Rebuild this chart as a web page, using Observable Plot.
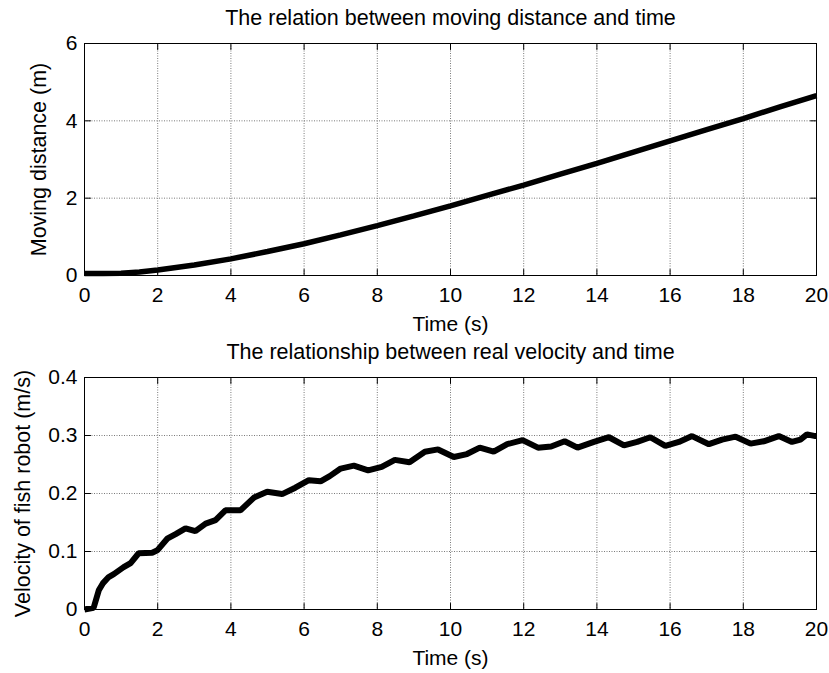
<!DOCTYPE html>
<html><head><meta charset="utf-8">
<script src="https://cdn.jsdelivr.net/npm/d3@7"></script>
<script src="https://cdn.jsdelivr.net/npm/@observablehq/plot@0.6"></script>
<style>
html,body{margin:0;padding:0;background:#fff;}
#chart{width:829px;height:673px;}
#chart svg{display:block;}
</style></head><body><div id="chart"></div>
<script>
// ---- data ----
const xTicks = [0, 2, 4, 6, 8, 10, 12, 14, 16, 18, 20];
const distTicks = [0, 2, 4, 6];
const velTicks = [0, 0.1, 0.2, 0.3, 0.4];

const distTime = [0, 0.5, 1, 1.5, 2, 3, 4, 5, 6, 7, 8, 9, 10, 11, 12, 13, 14, 15, 16, 17, 18, 19, 20];
const distValue = [0.05, 0.05, 0.06, 0.09, 0.14, 0.27, 0.43, 0.62, 0.82, 1.05, 1.29, 1.54, 1.80, 2.07, 2.34, 2.62, 2.90, 3.19, 3.48, 3.77, 4.06, 4.36, 4.65];

const velTime = [0, 0.25, 0.39, 0.5, 0.66, 0.8, 1.07, 1.26, 1.48, 1.85, 1.99, 2.26, 2.49, 2.76, 3.03, 3.31, 3.58, 3.85, 4.26, 4.63, 4.99, 5.4, 5.76, 6.13, 6.45, 6.7, 7.0, 7.36, 7.75, 8.12, 8.48, 8.88, 9.3, 9.66, 10.09, 10.45, 10.8, 11.18, 11.55, 11.97, 12.39, 12.75, 13.12, 13.47, 13.92, 14.33, 14.74, 15.1, 15.46, 15.87, 16.24, 16.6, 17.06, 17.42, 17.79, 18.2, 18.56, 18.97, 19.33, 19.56, 19.74, 19.97, 20];
const velValue = [0, 0.003, 0.033, 0.045, 0.056, 0.061, 0.073, 0.08, 0.097, 0.098, 0.102, 0.122, 0.13, 0.14, 0.135, 0.148, 0.154, 0.171, 0.171, 0.193, 0.203, 0.199, 0.21, 0.223, 0.221, 0.23, 0.243, 0.248, 0.24, 0.246, 0.258, 0.254, 0.272, 0.276, 0.263, 0.268, 0.279, 0.272, 0.285, 0.292, 0.279, 0.281, 0.29, 0.279, 0.289, 0.297, 0.283, 0.289, 0.297, 0.282, 0.289, 0.299, 0.285, 0.293, 0.298, 0.286, 0.29, 0.299, 0.289, 0.293, 0.302, 0.299, 0.299];

const titles = ["The relation between moving distance and time", "The relationship between real velocity and time"];
const xLabel = "Time (s)";
const yLabels = ["Moving distance (m)", "Velocity of fish robot (m/s)"];

// ---- drawing ----
const FONT = "'Liberation Sans', Arial, Helvetica, sans-serif";
const tickShape = {draw(ctx, l) { ctx.moveTo(0, 0); ctx.lineTo(0, -l); }};

function panel({time, values, yDomain, yTicks, yFormat, height, marginTop, marginBottom, title, yLabel, yLabelDx, lineWidth}) {
  const data = time.map((t, i) => ({t, v: values[i]}));
  const gridStyle = {stroke: "#7a7a7a", strokeOpacity: 1, strokeDasharray: "1,1.5", strokeWidth: 1};
  const tk = {length: 6, anchor: "start", shape: tickShape, stroke: "black", strokeWidth: 1};
  return Plot.plot({
    width: 829, height, marginTop, marginBottom, marginLeft: 84, marginRight: 13,
    style: {fontFamily: FONT, fontSize: "21px", color: "black", background: "white", overflow: "visible"},
    x: {domain: [0, 20]},
    y: {domain: yDomain},
    marks: [
      Plot.gridX(xTicks, gridStyle),
      Plot.gridY(yTicks, gridStyle),
      Plot.vector(xTicks, {...tk, x: d => d, y: yDomain[0], rotate: 0}),
      Plot.vector(xTicks, {...tk, x: d => d, y: yDomain[1], rotate: 180}),
      Plot.vector(yTicks, {...tk, x: 0, y: d => d, rotate: 90}),
      Plot.vector(yTicks, {...tk, x: 20, y: d => d, rotate: -90}),
      Plot.line(data, {x: "t", y: "v", stroke: "black", strokeWidth: lineWidth, strokeLinejoin: "miter", strokeLinecap: "butt"}),
      Plot.frame({stroke: "black", strokeWidth: 1}),
      Plot.axisX(xTicks, {tickSize: 0, tickPadding: 12, label: null, fontSize: 21}),
      Plot.axisY(yTicks, {tickSize: 0, tickPadding: 7, label: null, tickFormat: yFormat, fontSize: 21}),
      Plot.text([xLabel], {text: d => d, frameAnchor: "bottom", dy: 49, lineAnchor: "middle", fontSize: 21}),
      Plot.text([title], {text: d => d, frameAnchor: "top", dy: -25, lineAnchor: "middle", fontSize: 21.5}),
      Plot.text([yLabel], {text: d => d, frameAnchor: "left", dx: yLabelDx, rotate: -90, lineAnchor: "middle", textAnchor: "middle", fontSize: 21.5})
    ]
  });
}

const root = document.getElementById("chart");
root.appendChild(panel({
  time: distTime, values: distValue, yDomain: [0, 6], yTicks: distTicks, yFormat: d => String(d),
  height: 336, marginTop: 43, marginBottom: 61, title: titles[0], yLabel: yLabels[0], yLabelDx: -45, lineWidth: 5.5
}));
root.appendChild(panel({
  time: velTime, values: velValue, yDomain: [0, 0.4], yTicks: velTicks, yFormat: d => String(d),
  height: 337, marginTop: 41, marginBottom: 64, title: titles[1], yLabel: yLabels[1], yLabelDx: -61, lineWidth: 6
}));
</script></body></html>
